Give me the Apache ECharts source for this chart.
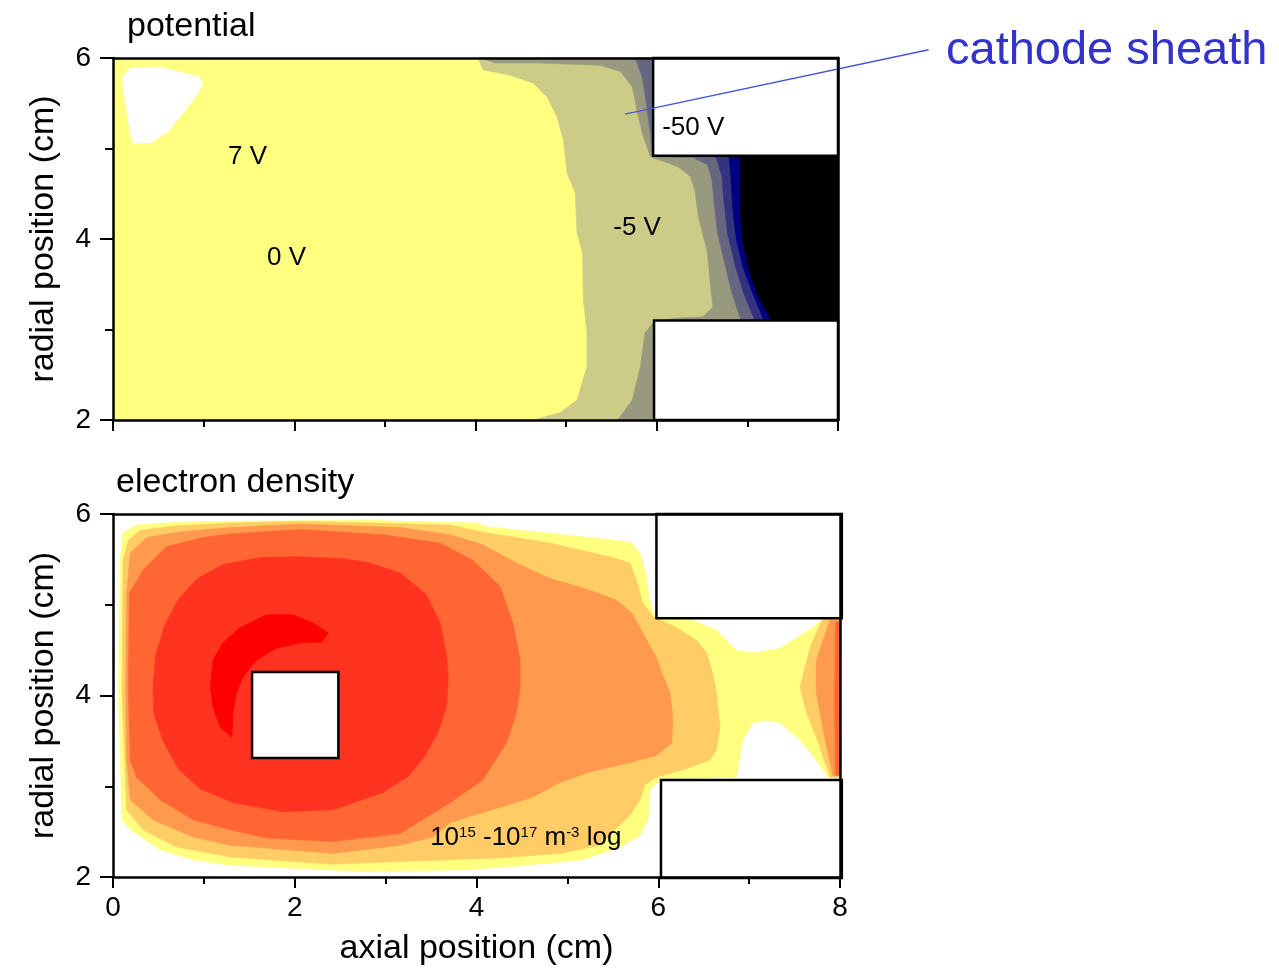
<!DOCTYPE html>
<html>
<head>
<meta charset="utf-8">
<script src="https://cdn.jsdelivr.net/npm/echarts@6/dist/echarts.min.js"></script>
<style>
html, body { margin: 0; padding: 0; background: #ffffff; }
#chart { width: 1279px; height: 971px; }
</style>
</head>
<body>
<div id="chart"></div>
<script>
// ---- axes (cm) ----
const axialRange = [0, 8];
const radialRange = [2, 6];
const tickStep = 2;

// ---- potential: filled level regions, [axial cm, radial cm] ----
const potHole = [[0.10,5.79],[0.19,5.89],[0.52,5.90],[0.96,5.79],[0.99,5.70],[0.91,5.57],[0.74,5.35],[0.60,5.18],[0.41,5.06],[0.22,5.06],[0.19,5.17],[0.13,5.54]];
const potMinus1 = [[4.03,6.0],[4.08,5.87],[4.38,5.81],[4.64,5.72],[4.79,5.57],[4.90,5.35],[4.97,5.09],[5.01,4.73],[5.10,4.51],[5.12,4.07],[5.18,3.85],[5.19,3.33],[5.23,2.96],[5.23,2.59],[5.12,2.22],[4.93,2.08],[4.64,2.0],[8,2],[8,6]];
const potMinus2 = [[4.05,6.0],[4.22,5.945],[4.71,5.945],[5.38,5.92],[5.60,5.85],[5.73,5.68],[5.78,5.43],[5.84,5.17],[5.93,4.91],[6.23,4.80],[6.37,4.69],[6.42,4.54],[6.46,4.24],[6.56,3.85],[6.59,3.51],[6.62,3.25],[6.51,3.14],[6.29,3.13],[5.98,3.10],[5.87,2.96],[5.82,2.59],[5.73,2.22],[5.57,2.0],[8,2],[8,6]];
const potMinus3 = [[5.76,6.0],[5.84,5.79],[5.89,5.46],[5.93,5.17],[5.95,4.91],[6.40,4.90],[6.56,4.82],[6.61,4.65],[6.63,4.43],[6.67,4.07],[6.76,3.69],[6.83,3.40],[6.92,3.13],[6.95,3.0],[8,3.0],[8,6]];
const potMinus4 = [[6.55,4.95],[6.66,4.895],[6.72,4.69],[6.74,4.43],[6.78,4.07],[6.87,3.69],[6.96,3.40],[7.07,3.13],[7.10,3.0],[8,3.0],[8,4.95]];
const potMinus5 = [[6.78,4.95],[6.80,4.895],[6.82,4.65],[6.84,4.32],[6.88,3.99],[6.95,3.69],[7.06,3.40],[7.17,3.13],[7.20,3.0],[8,3.0],[8,4.95]];
const potCore = [[6.92,4.95],[6.92,4.32],[6.95,3.96],[7.03,3.62],[7.12,3.36],[7.25,3.13],[7.30,3.0],[8,3.0],[8,4.95]];

// electrodes in the potential plane: [axial0, radial0, axial1, radial1]
const potElectrodes = [[5.96,4.92,8.0,6.0],[5.97,2.0,8.0,3.10]];
// in-plane labels: [axial, radial, text]
const potLabels = [[1.27,4.91,'7 V'],[1.70,3.79,'0 V'],[5.52,4.12,'-5 V'],[6.06,5.23,'-50 V']];
// sheath pointer: from inside the sheath out to the caption
const sheathPointer = [[5.65,5.38],[9.00,6.09]];

// ---- electron density: log levels from outer (lowest) to inner (highest) ----
const denL0 = [[0.11,5.79],[0.26,5.88],[0.70,5.91],[1.29,5.92],[2.79,5.93],[4.00,5.90],[4.11,5.86],[5.54,5.71],[5.71,5.68],[5.80,5.57],[5.87,5.31],[5.91,5.02],[5.96,4.87],[6.38,4.83],[6.64,4.72],[6.86,4.50],[7.08,4.47],[7.34,4.52],[7.63,4.70],[7.80,4.83],[8.0,4.85],[8.0,3.10],[7.87,3.10],[7.74,3.29],[7.56,3.51],[7.34,3.70],[7.19,3.73],[7.04,3.70],[6.93,3.51],[6.86,3.10],[6.03,3.07],[5.91,2.96],[5.89,2.64],[5.80,2.46],[5.58,2.33],[5.17,2.19],[4.44,2.12],[3.89,2.08],[2.79,2.06],[1.29,2.13],[0.88,2.19],[0.52,2.30],[0.19,2.52],[0.10,2.63],[0.06,4.03],[0.08,5.49]];
const denL1 = [[0.11,5.49],[0.17,5.71],[0.30,5.82],[0.70,5.87],[1.29,5.90],[2.06,5.92],[3.71,5.88],[4.07,5.80],[4.81,5.68],[5.50,5.52],[5.69,5.46],[5.76,5.27],[5.83,5.02],[5.94,4.87],[6.20,4.75],[6.42,4.61],[6.53,4.47],[6.60,4.25],[6.64,4.03],[6.68,3.65],[6.64,3.40],[6.57,3.29],[6.27,3.18],[5.98,3.10],[5.85,3.01],[5.80,2.85],[5.69,2.68],[5.52,2.52],[5.36,2.35],[4.92,2.26],[4.26,2.21],[3.16,2.17],[2.42,2.14],[1.29,2.22],[0.70,2.33],[0.33,2.52],[0.15,2.74],[0.10,4.03]];
const denL1End = [[7.81,4.85],[7.67,4.53],[7.56,4.09],[7.63,3.81],[7.74,3.54],[7.89,3.10],[8.0,3.10],[8.0,4.85]];
const denL2 = [[0.19,5.57],[0.37,5.74],[0.70,5.80],[1.29,5.85],[2.06,5.89],[3.16,5.85],[3.71,5.77],[4.07,5.66],[4.44,5.46],[4.81,5.29],[5.25,5.16],[5.54,5.05],[5.71,4.91],[5.83,4.69],[5.98,4.42],[6.04,4.25],[6.13,4.03],[6.16,3.76],[6.15,3.48],[5.98,3.34],[5.69,3.26],[5.25,3.16],[4.92,3.04],[4.62,2.88],[4.07,2.71],[3.71,2.60],[3.52,2.44],[3.16,2.35],[2.42,2.26],[1.29,2.35],[0.88,2.44],[0.44,2.63],[0.19,2.85],[0.15,3.29],[0.14,4.03],[0.15,5.13]];
const denL2End = [[7.89,4.83],[7.74,4.39],[7.74,4.03],[7.81,3.65],[7.92,3.12],[8.0,3.12],[8.0,4.83]];
const denL2Ring = [[1.70,4.30],[2.06,4.33],[2.40,4.31],[2.52,4.10],[2.54,3.80],[2.52,3.50],[2.48,3.32],[1.53,3.32],[1.53,4.26]];
const denL3 = [[0.33,5.38],[0.59,5.64],[0.99,5.74],[1.29,5.78],[2.06,5.83],[2.97,5.77],[3.60,5.68],[3.96,5.49],[4.26,5.20],[4.40,4.80],[4.48,4.39],[4.48,4.09],[4.44,3.81],[4.33,3.48],[4.07,3.07],[3.71,2.82],[3.16,2.48],[2.42,2.39],[1.69,2.43],[1.29,2.52],[0.88,2.63],[0.52,2.85],[0.26,3.10],[0.19,3.29],[0.17,4.03],[0.18,5.13]];
const denL3End = [[7.95,4.81],[7.94,3.95],[7.95,3.12],[8.0,3.12],[8.0,4.81]];
const denL4 = [[1.62,5.52],[2.06,5.53],[2.50,5.51],[2.79,5.47],[3.16,5.35],[3.45,5.11],[3.60,4.80],[3.67,4.45],[3.69,4.20],[3.67,3.88],[3.58,3.60],[3.43,3.33],[3.25,3.11],[2.97,2.93],[2.42,2.74],[1.87,2.72],[1.32,2.82],[0.96,2.97],[0.72,3.19],[0.55,3.50],[0.45,3.80],[0.44,4.10],[0.47,4.45],[0.57,4.78],[0.72,5.06],[0.92,5.28],[1.20,5.44]];
const denL5 = [[1.07,4.09],[1.10,4.39],[1.21,4.58],[1.40,4.75],[1.69,4.89],[1.98,4.89],[2.20,4.80],[2.37,4.69],[2.30,4.59],[2.06,4.58],[1.80,4.52],[1.58,4.39],[1.43,4.20],[1.36,4.03],[1.32,3.81],[1.31,3.54],[1.18,3.65],[1.10,3.87]];

const denElectrodes = [[5.98,4.85,8.02,6.0],[6.03,1.99,8.02,3.07],[1.53,3.31,2.48,4.26]];
const denLabels = [[3.49,2.43,'{n|10}{s|15}{n| -10}{s|17}{n| m}{s|-3}{n| log}']];

// ---- drawing ----
const FONT = '"Liberation Sans", Arial, Helvetica, sans-serif';
const potFill = ['#FFFFFF', '#CCCC88', '#999980', '#666680', '#333380', '#000080', '#000000'];
const denFill = ['#FFFF80', '#FFCC66', '#FF994D', '#FF6633', '#FF3320', '#FF0000'];

const potRegions = [
  { pts: potHole, fill: potFill[0] },
  { pts: potMinus1, fill: potFill[1] },
  { pts: potMinus2, fill: potFill[2] },
  { pts: potMinus3, fill: potFill[3] },
  { pts: potMinus4, fill: potFill[4] },
  { pts: potMinus5, fill: potFill[5] },
  { pts: potCore, fill: potFill[6] }
];
const denRegions = [
  { pts: denL0, fill: denFill[0] },
  { pts: denL1, fill: denFill[1] },
  { pts: denL1End, fill: denFill[1] },
  { pts: denL2, fill: denFill[2] },
  { pts: denL2End, fill: denFill[2] },
  { pts: denL2Ring, fill: denFill[2] },
  { pts: denL3, fill: denFill[3] },
  { pts: denL3End, fill: denFill[3] },
  { pts: denL4, fill: denFill[4] },
  { pts: denL5, fill: denFill[5] }
];

function regionSeries(axisIdx, regions) {
  return {
    type: 'custom', xAxisIndex: axisIdx, yAxisIndex: axisIdx, silent: true, z: 2,
    data: regions.map(r => [r.pts[0][0], r.pts[0][1]]),
    renderItem: (params, api) => {
      const r = regions[params.dataIndex];
      return { type: 'polygon', shape: { points: r.pts.map(p => api.coord(p)) },
               style: { fill: r.fill, stroke: r.fill, lineWidth: 0.6 } };
    }
  };
}

function electrodeSeries(axisIdx, boxes) {
  return {
    type: 'custom', xAxisIndex: axisIdx, yAxisIndex: axisIdx, silent: true, z: 4,
    data: boxes.map(b => [b[0], b[1]]),
    renderItem: (params, api) => {
      const b = boxes[params.dataIndex];
      const p0 = api.coord([b[0], b[3]]);
      const p1 = api.coord([b[2], b[1]]);
      return { type: 'rect', shape: { x: p0[0], y: p0[1], width: p1[0] - p0[0], height: p1[1] - p0[1] },
               style: { fill: '#FFFFFF', stroke: '#000000', lineWidth: 2.5 } };
    }
  };
}

function labelSeries(axisIdx, labels) {
  return {
    type: 'custom', xAxisIndex: axisIdx, yAxisIndex: axisIdx, silent: true, z: 6,
    data: labels.map(l => [l[0], l[1]]),
    renderItem: (params, api) => {
      const l = labels[params.dataIndex];
      const p = api.coord([l[0], l[1]]);
      return { type: 'text', x: p[0], y: p[1],
               style: { text: l[2], fill: '#000000', fontSize: 26, fontFamily: FONT,
                        align: 'left', verticalAlign: 'middle',
                        rich: { n: { fontSize: 26, fontFamily: FONT, fill: '#000' },
                                s: { fontSize: 15, fontFamily: FONT, fill: '#000', verticalAlign: 'top' } } } };
    }
  };
}

const pointerSeries = {
  type: 'custom', xAxisIndex: 0, yAxisIndex: 0, silent: true, z: 7, clip: false,
  data: [sheathPointer[0]],
  renderItem: (params, api) => {
    const a = api.coord(sheathPointer[0]);
    const b = api.coord(sheathPointer[1]);
    return { type: 'line', shape: { x1: a[0], y1: a[1], x2: b[0], y2: b[1] },
             style: { stroke: '#4455DD', lineWidth: 1.5 } };
  }
};

const axisLine = { show: true, onZero: false, lineStyle: { color: '#000', width: 2.5 } };
const noMarks = { axisTick: { show: false }, axisLabel: { show: false }, splitLine: { show: false } };
const tickLabel = { color: '#000', fontSize: 28, fontFamily: FONT };
const nameStyle = { color: '#000', fontSize: 34, fontFamily: FONT };

function xAxes(gridIndex, withLabels) {
  return [
    { gridIndex, type: 'value', min: axialRange[0], max: axialRange[1], interval: tickStep, position: 'bottom', z: 10,
      axisLine,
      axisTick: { show: true, length: 11, lineStyle: { color: '#000', width: 2 } },
      minorTick: { show: true, splitNumber: 2, length: 7, lineStyle: { color: '#000', width: 2 } },
      axisLabel: Object.assign({ show: withLabels, margin: 17 }, tickLabel),
      splitLine: { show: false },
      name: withLabels ? 'axial position (cm)' : '', nameLocation: 'middle', nameGap: 55, nameTextStyle: nameStyle },
    Object.assign({ gridIndex, type: 'value', min: axialRange[0], max: axialRange[1], position: 'top', z: 10, axisLine }, noMarks)
  ];
}
function yAxes(gridIndex) {
  return [
    { gridIndex, type: 'value', min: radialRange[0], max: radialRange[1], interval: tickStep, position: 'left', z: 10,
      axisLine,
      axisTick: { show: true, length: 13, lineStyle: { color: '#000', width: 2 } },
      minorTick: { show: true, splitNumber: 2, length: 8, lineStyle: { color: '#000', width: 2 } },
      axisLabel: Object.assign({ margin: 22 }, tickLabel),
      splitLine: { show: false },
      name: 'radial position (cm)', nameLocation: 'middle', nameGap: 52, nameTextStyle: nameStyle },
    Object.assign({ gridIndex, type: 'value', min: radialRange[0], max: radialRange[1], position: 'right', z: 10, axisLine }, noMarks)
  ];
}

const chart = echarts.init(document.getElementById('chart'), null, { renderer: 'canvas' });
chart.setOption({
  animation: false,
  backgroundColor: '#FFFFFF',
  title: [
    { text: 'potential', left: 127, top: 10, padding: 0, textStyle: { color: '#000', fontSize: 34, fontWeight: 'normal', fontFamily: FONT } },
    { text: 'electron density', left: 116, top: 466, padding: 0, textStyle: { color: '#000', fontSize: 34, fontWeight: 'normal', fontFamily: FONT } },
    { text: 'cathode sheath', left: 946, top: 28, padding: 0, textStyle: { color: '#3333CC', fontSize: 47, fontWeight: 'normal', fontFamily: FONT } }
  ],
  grid: [
    { left: 113, top: 58, width: 725, height: 362, show: true, backgroundColor: '#FFFF80', borderWidth: 0 },
    { left: 113, top: 514, width: 727, height: 363, show: true, backgroundColor: '#FFFFFF', borderWidth: 0 }
  ],
  xAxis: [].concat(xAxes(0, false), xAxes(1, true)),
  yAxis: [].concat(yAxes(0), yAxes(1)),
  series: [
    regionSeries(0, potRegions),
    electrodeSeries(0, potElectrodes),
    labelSeries(0, potLabels),
    pointerSeries,
    Object.assign(regionSeries(2, denRegions), { xAxisIndex: 2, yAxisIndex: 2 }),
    electrodeSeries(2, denElectrodes),
    labelSeries(2, denLabels)
  ]
});
</script>
</body>
</html>
